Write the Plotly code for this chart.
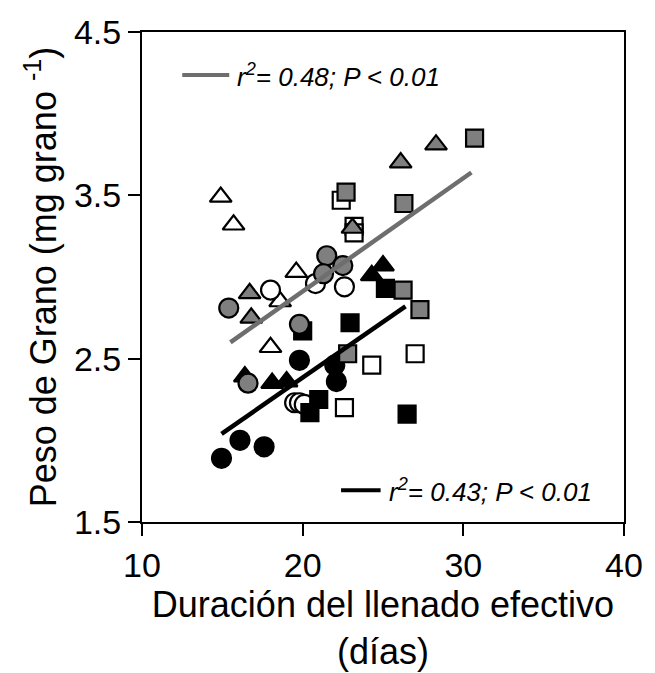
import plotly.graph_objects as go

# ---- data ----
open_sq_x = [22.4, 23.2, 23.2, 24.3, 27.0, 22.6]
open_sq_y = [3.47, 3.31, 3.27, 2.46, 2.53, 2.20]

black_sq_x = [20.0, 22.95, 20.45, 21.0, 26.5, 25.15]
black_sq_y = [2.67, 2.72, 2.17, 2.25, 2.16, 2.93]

gray_sq_x = [22.7, 26.3, 30.7, 26.25, 27.3, 22.8]
gray_sq_y = [3.52, 3.45, 3.85, 2.92, 2.80, 2.53]

open_tri_x = [14.9, 15.7, 19.6, 18.6, 18.0]
open_tri_y = [3.49, 3.32, 3.03, 2.85, 2.57]

black_tri_x = [16.4, 18.1, 19.0, 24.3, 25.0]
black_tri_y = [2.39, 2.35, 2.36, 3.01, 3.07]

gray_tri_x = [16.7, 16.8, 26.1, 28.3, 23.1]
gray_tri_y = [2.90, 2.75, 3.70, 3.81, 3.30]

open_ci_x = [18.0, 20.8, 22.6, 19.5, 19.8, 20.1]
open_ci_y = [2.92, 2.96, 2.94, 2.23, 2.23, 2.22]

black_ci_x = [14.95, 16.1, 17.6, 19.8, 22.1, 22.0]
black_ci_y = [1.89, 2.00, 1.96, 2.49, 2.36, 2.46]

gray_ci_x = [15.4, 21.5, 21.3, 22.5, 19.8, 16.6]
gray_ci_y = [2.81, 3.13, 3.02, 3.07, 2.71, 2.35]

fit_gray_x = [15.5, 30.5]
fit_gray_y = [2.60, 3.64]
fit_black_x = [14.95, 26.4]
fit_black_y = [2.04, 2.82]

x_ticks = [10, 20, 30, 40]
y_ticks = [1.5, 2.5, 3.5, 4.5]

GRAY = "#7f7f7f"
LINEGRAY = "#6e6e6e"
FONT = "Liberation Sans, Arial, sans-serif"

fig = go.Figure()


def add_pts(xs, ys, symbol, fill, size=18):
    fig.add_trace(go.Scatter(
        x=xs, y=ys, mode="markers",
        marker=dict(symbol=symbol, size=size, color=fill,
                    line=dict(color="black", width=2.2)),
        showlegend=False, hoverinfo="skip"))


add_pts(open_sq_x, open_sq_y, "square", "white", 17)
add_pts(open_tri_x, open_tri_y, "triangle-up", "white", 19)
add_pts(open_ci_x, open_ci_y, "circle", "white", 19)
add_pts(black_ci_x, black_ci_y, "circle", "black", 19)
add_pts(black_sq_x, black_sq_y, "square", "black", 17)
add_pts(black_tri_x, black_tri_y, "triangle-up", "black", 19)
add_pts(gray_sq_x, gray_sq_y, "square", GRAY, 17)
add_pts(gray_tri_x, gray_tri_y, "triangle-up", GRAY, 19)
add_pts(gray_ci_x, gray_ci_y, "circle", GRAY, 19)

fig.add_trace(go.Scatter(x=fit_gray_x, y=fit_gray_y, mode="lines",
                         line=dict(color=LINEGRAY, width=4.5),
                         showlegend=False, hoverinfo="skip"))
fig.add_trace(go.Scatter(x=fit_black_x, y=fit_black_y, mode="lines",
                         line=dict(color="black", width=4.5),
                         showlegend=False, hoverinfo="skip"))

# legend keys
fig.add_shape(type="line", xref="paper", yref="paper",
              x0=0.0835, x1=0.181, y0=0.912, y1=0.912,
              line=dict(color=LINEGRAY, width=4))
fig.add_shape(type="line", xref="paper", yref="paper",
              x0=0.413, x1=0.495, y0=0.065, y1=0.065,
              line=dict(color="black", width=4))
fig.add_annotation(xref="paper", yref="paper", x=0.193, y=0.912,
                   xanchor="left", yanchor="middle", showarrow=False,
                   text="<i>r<sup>2</sup>= 0.48; P &lt; 0.01</i>",
                   font=dict(family=FONT, size=26, color="black"))
fig.add_annotation(xref="paper", yref="paper", x=0.509, y=0.065,
                   xanchor="left", yanchor="middle", showarrow=False,
                   text="<i>r<sup>2</sup>= 0.43; P &lt; 0.01</i>",
                   font=dict(family=FONT, size=26, color="black"))

fig.update_layout(
    width=655, height=673,
    margin=dict(l=142, r=22, t=32, b=151),
    plot_bgcolor="white", paper_bgcolor="white",
    font=dict(family=FONT, size=34, color="black"),
    xaxis=dict(range=[10, 40], tickvals=x_ticks, ticktext=[str(v) for v in x_ticks],
               showgrid=False, zeroline=False, showline=True, linecolor="black",
               linewidth=2, mirror=True, ticks="outside", ticklen=12, tickwidth=2,
               tickcolor="black", tickfont=dict(size=34),
               title=dict(text="Duración del llenado efectivo<br>(días)",
                          font=dict(size=36), standoff=0)),
    yaxis=dict(range=[1.5, 4.5], tickvals=y_ticks, ticktext=[str(v) for v in y_ticks],
               showgrid=False, zeroline=False, showline=True, linecolor="black",
               linewidth=2, mirror=True, ticks="outside", ticklen=12, tickwidth=2,
               tickcolor="black", tickfont=dict(size=34),
               title=dict(text="Peso de Grano (mg grano <sup>-1</sup>)",
                          font=dict(size=36), standoff=6)),
)

fig.write_html("out.html")
